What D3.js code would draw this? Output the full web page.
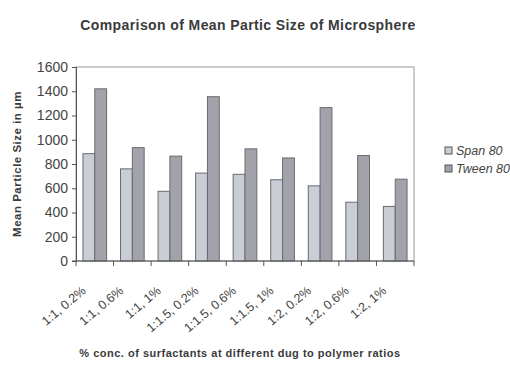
<!DOCTYPE html>
<html>
<head>
<meta charset="utf-8">
<script src="https://cdnjs.cloudflare.com/ajax/libs/d3/7.8.5/d3.min.js"></script>
<style>
  body { margin: 0; background: #fff; }
  text { font-family: "Liberation Sans", Arial, sans-serif; }
</style>
</head>
<body>
<svg width="510" height="374"></svg>
<script>
// Data ======================================================
var categories = ["1:1, 0.2%", "1:1, 0.6%", "1:1, 1%", "1:1.5, 0.2%", "1:1.5, 0.6%",
                  "1:1.5, 1%", "1:2, 0.2%", "1:2, 0.6%", "1:2, 1%"];
var seriesNames = ["Span 80", "Tween 80"];
var span80 = [885, 760, 575, 725, 715, 670, 620, 485, 450];
var tween80 = [1420, 935, 865, 1355, 925, 850, 1265, 870, 675];
var yTicks = [0, 200, 400, 600, 800, 1000, 1200, 1400, 1600];

// Layout ====================================================
var svg = d3.select("svg");
var colors = { "Span 80": "#c9cdd6", "Tween 80": "#a2a3aa" };
var plotLeft = 76, plotRight = 414, plotTop = 67, plotBottom = 261;

var x = d3.scaleBand().domain(categories).range([plotLeft, plotRight]).paddingInner(0.37).paddingOuter(0.185);
var xSub = d3.scaleBand().domain(seriesNames).range([0, x.bandwidth()]);
var y = d3.scaleLinear().domain([0, 1600]).range([plotBottom, plotTop]);

// plot frame
svg.append("rect")
  .attr("x", plotLeft).attr("y", plotTop)
  .attr("width", plotRight - plotLeft).attr("height", plotBottom - plotTop)
  .attr("fill", "none").attr("stroke", "#9a9a9a").attr("stroke-width", 1);

// bars
var rows = categories.map(function(c, i) {
  return { cat: c, values: [{ s: "Span 80", v: span80[i] }, { s: "Tween 80", v: tween80[i] }] };
});

var groups = svg.append("g").selectAll("g")
  .data(rows)
  .enter().append("g")
  .attr("transform", function(d) { return "translate(" + x(d.cat) + ",0)"; });

groups.selectAll("rect")
  .data(function(d) { return d.values; })
  .enter().append("rect")
  .attr("x", function(d) { return xSub(d.s); })
  .attr("y", function(d) { return y(d.v); })
  .attr("width", xSub.bandwidth())
  .attr("height", function(d) { return plotBottom - y(d.v); })
  .attr("fill", function(d) { return colors[d.s]; })
  .attr("stroke", "#6a6a70")
  .attr("stroke-width", 1);

// y axis
var yAxis = svg.append("g")
  .attr("transform", "translate(" + plotLeft + ",0)")
  .call(d3.axisLeft(y).tickValues(yTicks).tickFormat(d3.format("d")).tickSize(4).tickPadding(4));
yAxis.select(".domain").attr("stroke", "#555");
yAxis.selectAll(".tick line").attr("stroke", "#555");
yAxis.selectAll("text")
  .attr("font-size", "14px")
  .attr("fill", "#444")
  .style("font-family", "'Liberation Sans', Arial, sans-serif");

// x axis with ticks at band edges
var xAxis = svg.append("g").attr("transform", "translate(0," + plotBottom + ")");
xAxis.append("line")
  .attr("x1", plotLeft - 4).attr("x2", plotRight)
  .attr("stroke", "#555");
var edges = d3.range(categories.length + 1).map(function(i) {
  return plotLeft + i * (plotRight - plotLeft) / categories.length;
});
xAxis.selectAll(".edge")
  .data(edges)
  .enter().append("line")
  .attr("class", "edge")
  .attr("x1", function(d) { return d; }).attr("x2", function(d) { return d; })
  .attr("y1", 0).attr("y2", 5)
  .attr("stroke", "#555");

xAxis.selectAll(".lbl")
  .data(categories)
  .enter().append("text")
  .attr("class", "lbl")
  .attr("text-anchor", "end")
  .attr("font-size", "12.5px")
  .attr("fill", "#444")
  .attr("transform", function(d) {
    return "translate(" + (x(d) + x.bandwidth() / 2 - 8) + ",31) rotate(-40)";
  })
  .text(function(d) { return d; });

// titles
svg.append("text")
  .attr("x", 248).attr("y", 30)
  .attr("text-anchor", "middle")
  .attr("font-size", "14px")
  .attr("font-weight", "bold")
  .attr("letter-spacing", "0.4px")
  .attr("fill", "#3a3a3a")
  .text("Comparison of Mean Partic Size of Microsphere");

svg.append("text")
  .attr("transform", "translate(21," + ((plotTop + plotBottom) / 2) + ") rotate(-90)")
  .attr("text-anchor", "middle")
  .attr("font-size", "11.5px")
  .attr("font-weight", "bold")
  .attr("letter-spacing", "0.5px")
  .attr("fill", "#3a3a3a")
  .text("Mean Particle Size in \u00b5m");

svg.append("text")
  .attr("x", 240).attr("y", 357)
  .attr("text-anchor", "middle")
  .attr("font-size", "11px")
  .attr("font-weight", "bold")
  .attr("letter-spacing", "0.5px")
  .attr("fill", "#3a3a3a")
  .text("% conc. of surfactants at different dug to polymer ratios");

// legend
var legend = svg.append("g").attr("transform", "translate(445,147)");
var item = legend.selectAll("g")
  .data(seriesNames)
  .enter().append("g")
  .attr("transform", function(d, i) { return "translate(0," + (i * 18) + ")"; });
item.append("rect")
  .attr("width", 7).attr("height", 7)
  .attr("fill", function(d) { return colors[d]; })
  .attr("stroke", "#555");
item.append("text")
  .attr("x", 11).attr("y", 8)
  .attr("font-size", "12.5px")
  .attr("font-style", "italic")
  .attr("fill", "#444")
  .text(function(d) { return d; });
</script>
</body>
</html>
